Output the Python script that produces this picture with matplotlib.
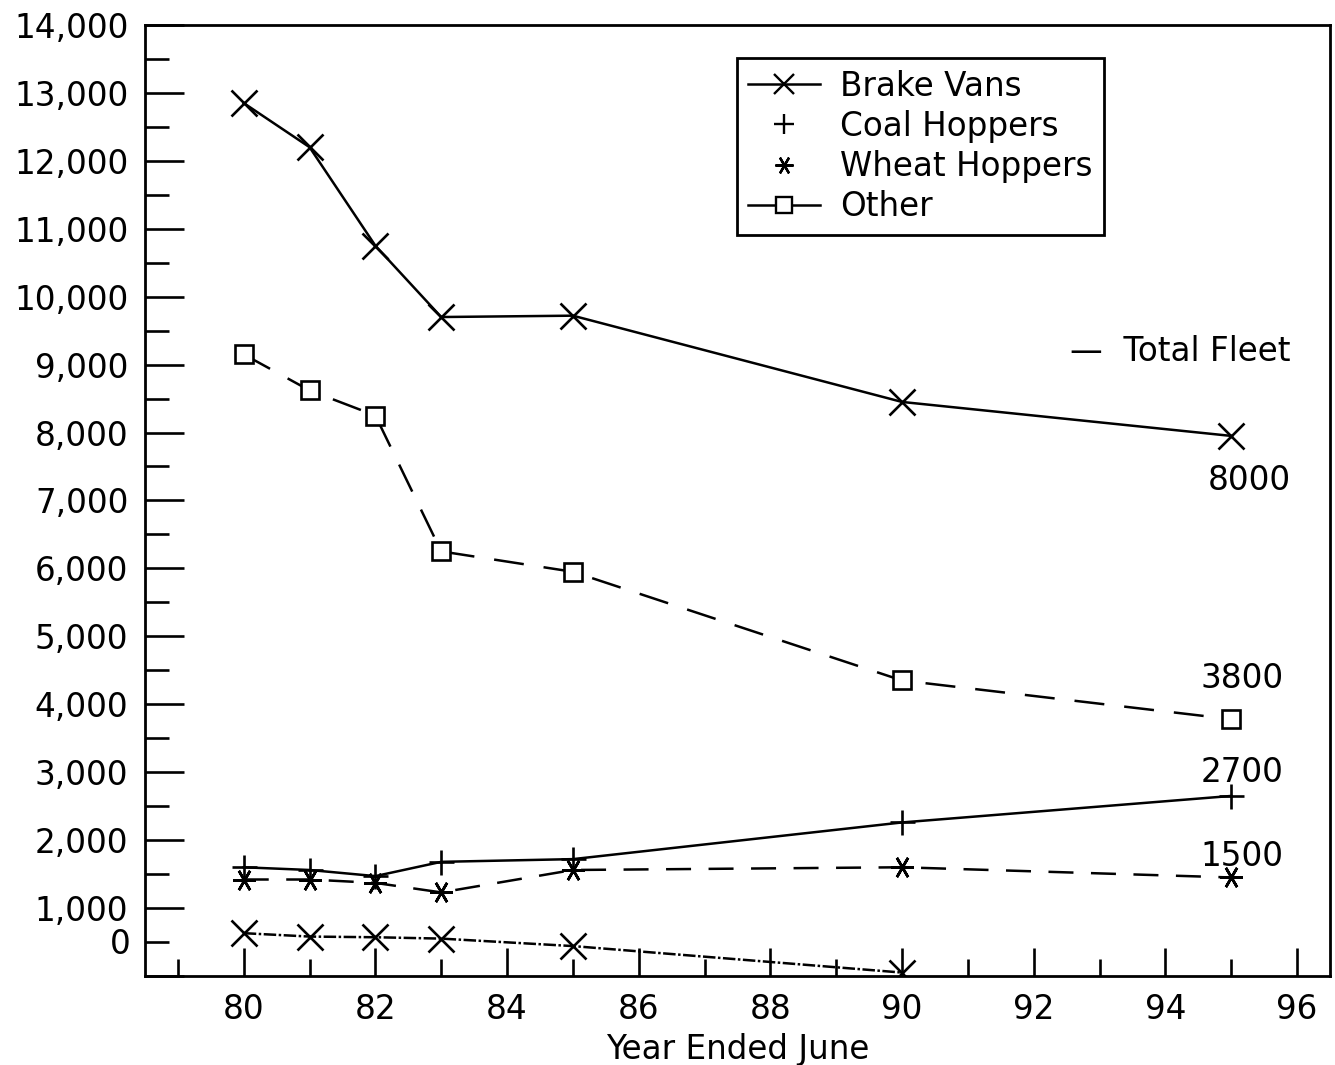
import matplotlib
matplotlib.use("Agg")
import matplotlib.pyplot as plt
from matplotlib.lines import Line2D
from matplotlib.ticker import MultipleLocator, FuncFormatter

# data (year ended June, number of wagons)
years = [80, 81, 82, 83, 85, 90, 95]
total_fleet = [12850, 12200, 10750, 9700, 9720, 8450, 7950]
other = [9150, 8620, 8250, 6250, 5950, 4350, 3780]
coal_hoppers = [1600, 1560, 1470, 1680, 1720, 2260, 2650]
wheat_hoppers = [1420, 1420, 1370, 1230, 1560, 1600, 1450]
brake_years = [80, 81, 82, 83, 85, 90]
brake_vans = [630, 580, 570, 550, 440, 50]

end_labels = ["8000", "3800", "2700", "1500"]

plt.rcParams['font.family'] = ['DejaVu Sans']
FS = 23.5

fig = plt.figure(figsize=(13.35, 10.65), dpi=100)
ax = fig.add_axes([0.1086, 0.0836, 0.8876, 0.893])

lw = 1.8
ax.plot(years, total_fleet, '-', color='black', lw=lw,
        marker='x', ms=19, mew=1.9)
ax.plot(years, other, color='black', lw=lw, dashes=(12, 8),
        marker='s', ms=13, mew=1.9, mfc='white')
ax.plot(years, coal_hoppers, '-', color='black', lw=lw,
        marker='+', ms=18, mew=1.9)
ax.plot(years, wheat_hoppers, color='black', lw=lw, dashes=(10, 7),
        marker=(6, 2, 90), ms=16, mew=1.9)
ax.plot(brake_years, brake_vans, color='black', lw=lw,
        dashes=(5, 1, 1, 1), marker='x', ms=19, mew=1.9)

# labels at the line ends
ax.text(95.9, 9190, '\u2014  Total Fleet', ha='right', va='center', fontsize=FS)
ax.text(95.9, 7300, end_labels[0], ha='right', va='center', fontsize=FS)
ax.text(95.8, 4380, end_labels[1], ha='right', va='center', fontsize=FS)
ax.text(95.8, 3000, end_labels[2], ha='right', va='center', fontsize=FS)
ax.text(95.8, 1760, end_labels[3], ha='right', va='center', fontsize=FS)

ax.set_xlim(78.5, 96.5)
ax.set_ylim(0, 14000)
ax.xaxis.set_major_locator(MultipleLocator(2))
ax.xaxis.set_minor_locator(MultipleLocator(1))
ax.yaxis.set_major_locator(MultipleLocator(1000))
ax.yaxis.set_minor_locator(MultipleLocator(500))
ax.yaxis.set_major_formatter(FuncFormatter(lambda v, p: f"{int(v):,}" if v > 0 else ""))
# the zero label sits a little above the axis on the original
ax.annotate('0', xy=(0, 0), xycoords='axes fraction', xytext=(-14, 31),
            textcoords='offset pixels', ha='right', va='center', fontsize=FS)

ax.tick_params(which='both', direction='in', width=1.9, labelsize=FS,
               top=False, right=False)
ax.tick_params(axis='x', which='major', length=20, pad=12)
ax.tick_params(axis='x', which='minor', length=12)
ax.tick_params(axis='y', which='major', length=28, pad=12)
ax.tick_params(axis='y', which='minor', length=17)
for s in ax.spines.values():
    s.set_linewidth(2)

ax.set_xlabel('Year Ended June', fontsize=FS, labelpad=5)

handles = [
    Line2D([], [], color='black', lw=lw, marker='x', ms=15, mew=1.7),
    Line2D([], [], color='black', lw=0, marker='+', ms=14, mew=1.7),
    Line2D([], [], color='black', lw=0, marker=(6, 2, 90), ms=13, mew=1.7),
    Line2D([], [], color='black', lw=lw, marker='s', ms=11, mew=1.7, mfc='white'),
]
names = ['Brake Vans', 'Coal Hoppers', 'Wheat Hoppers', 'Other']
leg = ax.legend(handles, names, loc='upper left', bbox_to_anchor=(0.4996, 0.965),
                borderaxespad=0, fontsize=FS, fancybox=False, framealpha=1,
                edgecolor='black', handlelength=2.2, handletextpad=0.6,
                labelspacing=0.22, borderpad=0.35)
leg.get_frame().set_linewidth(2)

fig.savefig('out.png', dpi=100)
